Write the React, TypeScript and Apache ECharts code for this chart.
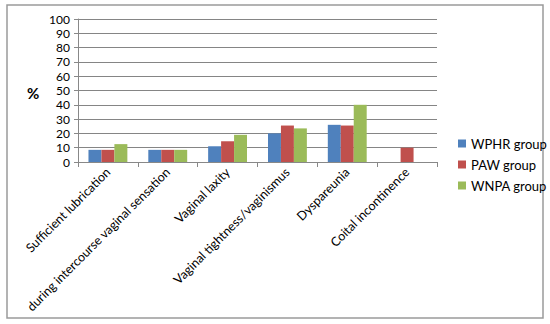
import React, { useEffect, useRef } from "react";
import * as echarts from "echarts";

const categories = [
  "Sufficient lubrication",
  "during intercourse vaginal sensation",
  "Vaginal laxity",
  "Vaginal tightness/vaginismus",
  "Dyspareunia",
  "Coital incontinence",
];
const wphr = [8.5, 8.5, 11, 20, 26, null];
const paw = [8.5, 8.5, 14.5, 25.5, 25.5, 10];
const wnpa = [12.5, 8.5, 19, 23.5, 40, null];
const seriesNames = ["WPHR group", "PAW group", "WNPA group"];
const colors = ["#4F81BD", "#C0504D", "#9BBB59"];

const FONT = "Lato, 'Open Sans', sans-serif";

export default function App() {
  const ref = useRef<HTMLDivElement>(null);
  useEffect(() => {
    const chart = echarts.init(ref.current!, null, { renderer: "svg" });
    const data = [wphr, paw, wnpa];
    chart.setOption({
      animation: false,
      textStyle: { fontFamily: FONT },
      graphic: [
        {
          type: "rect",
          shape: { x: 7, y: 5, width: 536, height: 313 },
          style: { fill: "none", stroke: "#9a9a9a", lineWidth: 1.5 },
          silent: true,
        },
        {
          type: "text",
          x: 27,
          y: 85,
          style: { text: "%", font: `bold 15px ${FONT}`, fill: "#000" },
        },
      ],
      legend: {
        orient: "vertical",
        left: 453,
        top: 132,
        itemWidth: 8,
        itemHeight: 8,
        itemGap: 8,
        icon: "rect",
        textStyle: { fontSize: 13, color: "#000", fontFamily: FONT },
        data: seriesNames,
      },
      grid: { left: 78, right: 113, top: 19, bottom: 162, containLabel: false },
      xAxis: {
        type: "category",
        data: categories,
        axisLine: { lineStyle: { color: "#888", width: 1 } },
        axisTick: { show: true, alignWithLabel: false, length: 5, lineStyle: { color: "#888" } },
        axisLabel: {
          rotate: 45,
          interval: 0,
          fontSize: 12.5,
          color: "#000",
          margin: 8,
          fontFamily: FONT,
        },
      },
      yAxis: {
        type: "value",
        min: 0,
        max: 100,
        interval: 10,
        axisLine: { show: true, lineStyle: { color: "#888" } },
        axisTick: { show: true, length: 4, lineStyle: { color: "#888" } },
        splitLine: { lineStyle: { color: "#858585", width: 1 } },
        axisLabel: { fontSize: 12, color: "#000", margin: 8, fontFamily: FONT },
      },
      series: seriesNames.map((name, i) => ({
        name,
        type: "bar",
        data: data[i],
        barGap: "0%",
        barCategoryGap: "35%",
        itemStyle: { color: colors[i] },
      })),
    });
    return () => chart.dispose();
  }, []);
  return (
    <div
      ref={ref}
      style={{ position: "fixed", left: 0, top: 0, width: 550, height: 324, background: "#fff" }}
    />
  );
}
